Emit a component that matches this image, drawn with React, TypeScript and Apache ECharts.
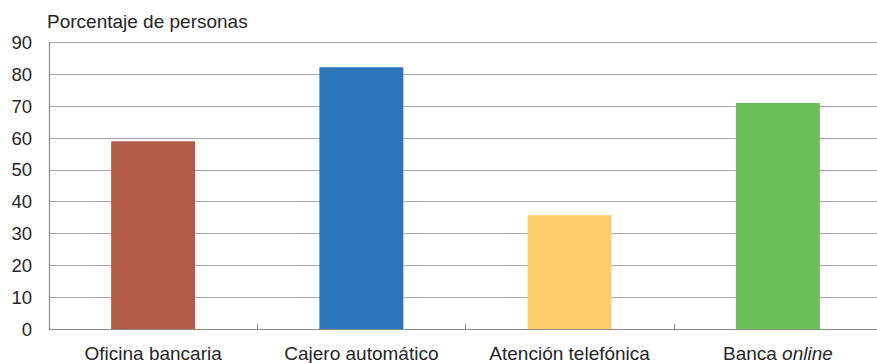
import React, { useEffect, useRef } from "react";
import * as echarts from "echarts";

// Share of people using each banking channel (%)
const categories = ["Oficina bancaria", "Cajero automático", "Atención telefónica", "Banca online"];
const values = [59, 82.2, 35.7, 71];
const barColors = ["#B45D4A", "#2E76BB", "#FDCD67", "#6ABF58"];
const yTicks = { min: 0, max: 90, interval: 10 };
const titleText = "Porcentaje de personas";

const FONT = "'Liberation Sans', Arial, Helvetica, sans-serif";
const TEXT_COLOR = "#262626";

export default function App() {
  const ref = useRef<HTMLDivElement>(null);

  useEffect(() => {
    if (!ref.current) return;
    const chart = echarts.init(ref.current, undefined, { renderer: "svg" });
    chart.setOption({
      animation: false,
      backgroundColor: "#ffffff",
      textStyle: { fontFamily: FONT },
      title: {
        text: titleText,
        left: 47,
        top: 12,
        padding: 0,
        textStyle: { fontFamily: FONT, fontSize: 19, fontWeight: "normal", color: TEXT_COLOR },
      },
      // the plot runs a few pixels past the right edge of the visible page
      grid: { left: 49, right: 0, top: 42.5, bottom: 33 },
      xAxis: {
        type: "category",
        data: categories,
        axisLine: { lineStyle: { color: "#8a8a8a", width: 1.2 } },
        axisTick: { show: true, inside: true, length: 5, interval: 0, lineStyle: { color: "#8a8a8a" } },
        axisLabel: {
          interval: 0,
          margin: 15,
          fontFamily: FONT,
          fontSize: 19,
          color: TEXT_COLOR,
          formatter: (v: string) => (v === "Banca online" ? "Banca {i|online}" : v),
          rich: {
            i: { fontFamily: FONT, fontSize: 19, fontStyle: "italic", color: TEXT_COLOR },
          },
        },
      },
      yAxis: {
        type: "value",
        min: yTicks.min,
        max: yTicks.max,
        interval: yTicks.interval,
        axisLine: { show: true, lineStyle: { color: "#8a8a8a", width: 1.2 } },
        axisTick: { show: false },
        axisLabel: { margin: 17, fontFamily: FONT, fontSize: 18.5, color: TEXT_COLOR },
        splitLine: { show: true, lineStyle: { color: "#a8a8a8", width: 1.2 } },
      },
      series: [
        {
          type: "bar",
          barWidth: 84,
          data: values.map((v, i) => ({ value: v, itemStyle: { color: barColors[i] } })),
        },
      ],
    });
    return () => chart.dispose();
  }, []);

  return (
    <div
      ref={ref}
      style={{ position: "fixed", left: 0, top: 0, width: 882, height: 363, background: "#fff" }}
    />
  );
}
